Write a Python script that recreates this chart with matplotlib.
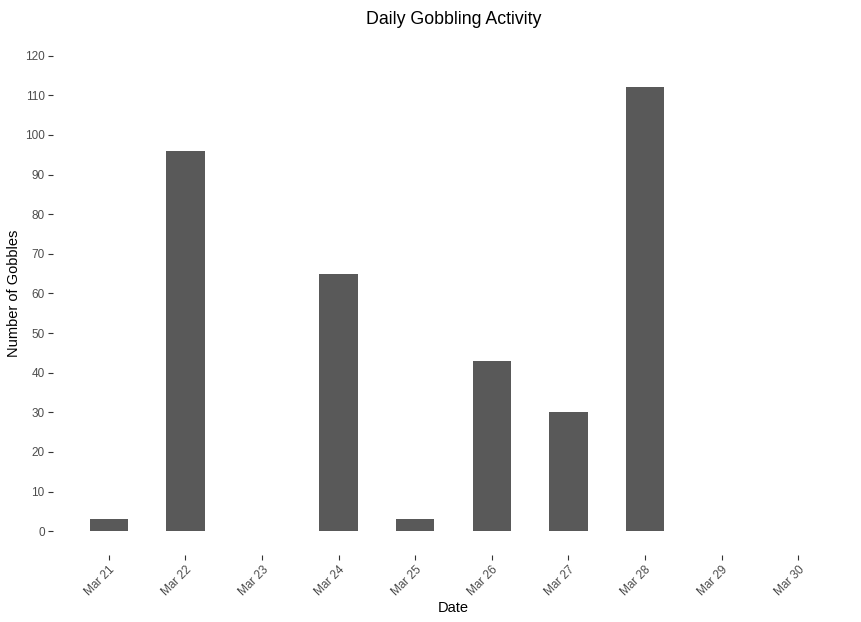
import numpy as np
import matplotlib.pyplot as plt

plt.rcParams['font.family'] = ['Liberation Sans', 'DejaVu Sans']

dates = ["Mar 21", "Mar 22", "Mar 23", "Mar 24", "Mar 25",
         "Mar 26", "Mar 27", "Mar 28", "Mar 29", "Mar 30"]
gobbles = [3, 96, 0, 65, 3, 43, 30, 112, 0, 0]
yticks = list(range(0, 121, 10))

fig = plt.figure(figsize=(8.62, 6.22), dpi=100)
ax = fig.add_axes([0.0615, 0.1077, 0.9292, 0.8409])

x = np.arange(len(dates))
ax.bar(x, gobbles, width=0.5, color="#595959")

ax.set_xlim(-0.73, 9.73)
ax.set_ylim(-6, 126)
ax.set_xticks(x)
ax.set_xticklabels(dates, rotation=45, ha="right", va="top", rotation_mode="anchor")
ax.set_yticks(yticks)

for s in ax.spines.values():
    s.set_visible(False)
ax.tick_params(axis="both", colors="#333333", length=3.5, width=0.8,
               labelsize=8.5, labelcolor="#4D4D4D", pad=2.5)

ax.set_title("Daily Gobbling Activity", fontsize=12.8, pad=6)
ax.set_xlabel("Date", fontsize=10.5, labelpad=2)
ax.set_ylabel("Number of Gobbles", fontsize=10.5, labelpad=3)

fig.savefig("out.png", dpi=100)
